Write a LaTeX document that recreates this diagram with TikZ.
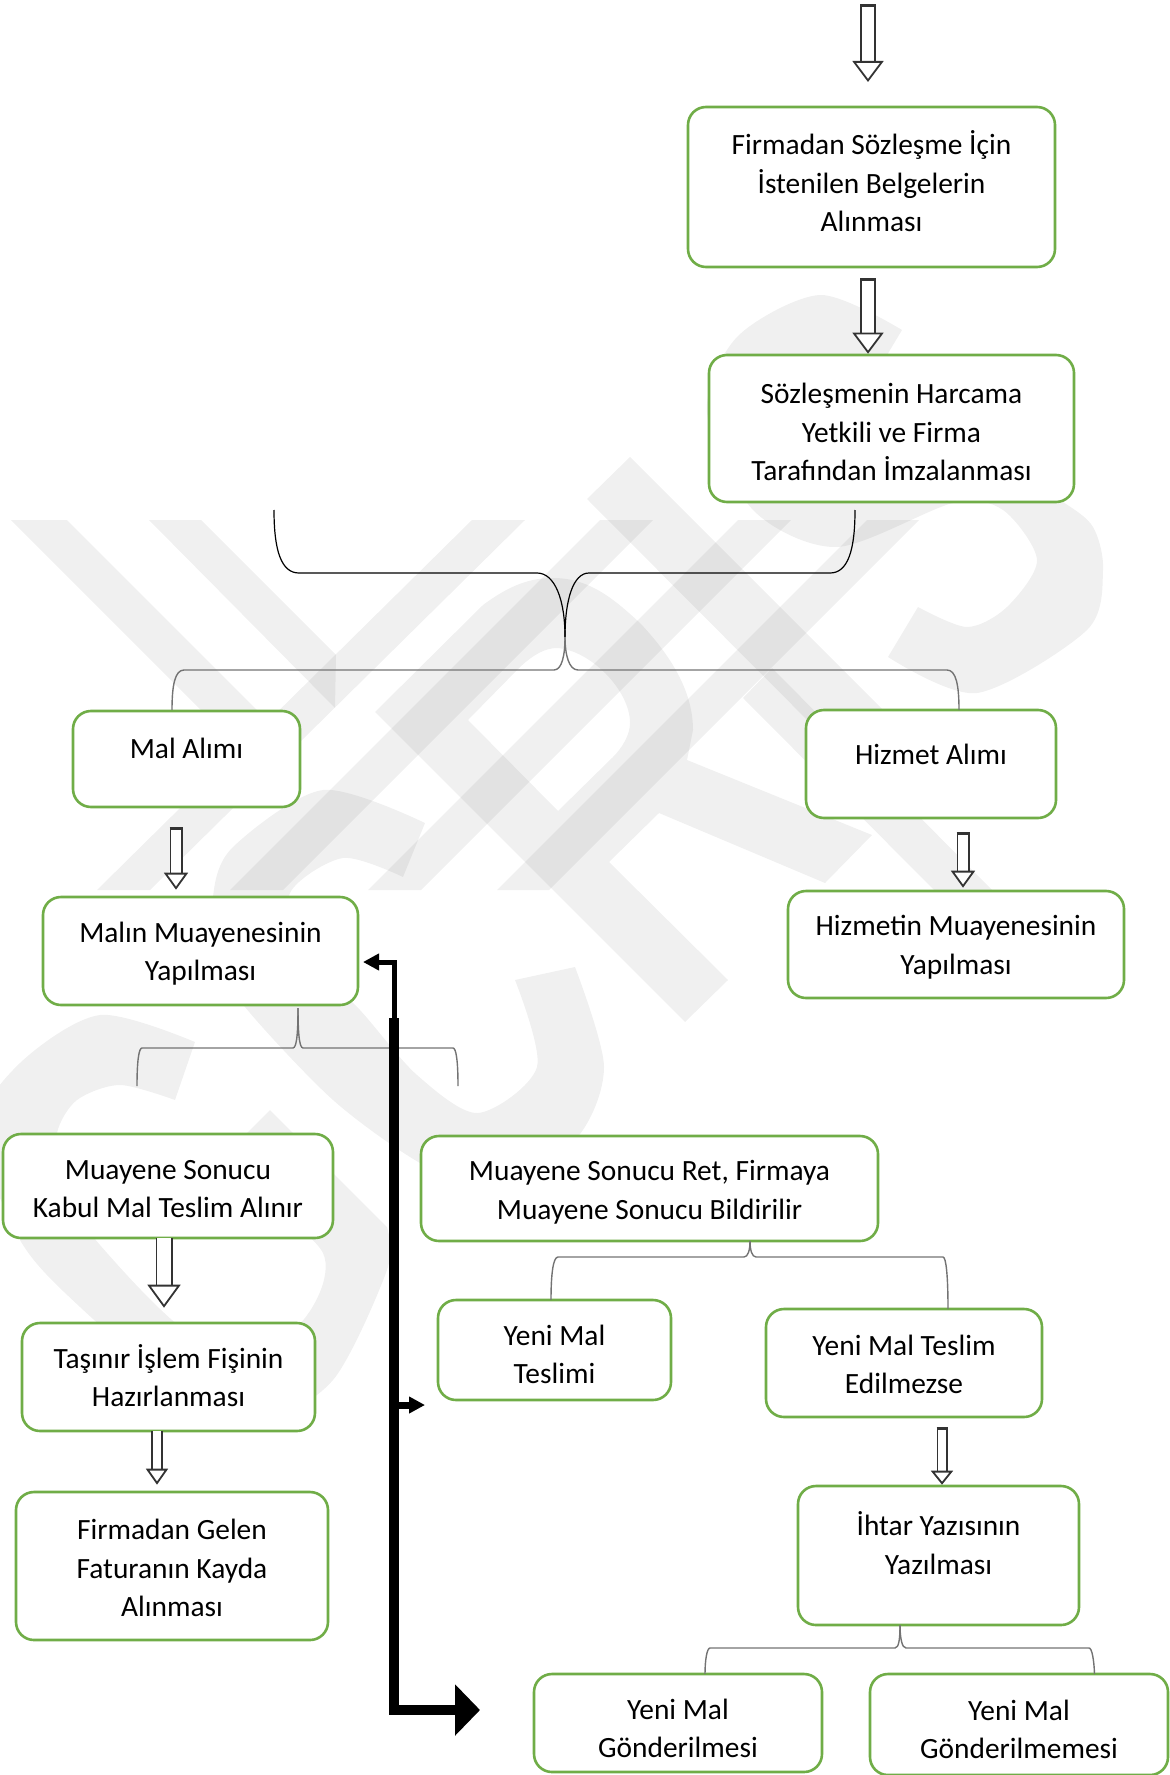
\documentclass[tikz,border=0pt]{standalone}
\usepackage{fontspec}
\setmainfont{Carlito}
\usetikzlibrary{arrows.meta}
\definecolor{boxgreen}{HTML}{70AD47}
\newcommand{\lead}[1]{\rule{0pt}{\dimexpr16.4pt+#1pt\relax}}
\newcommand{\trail}[1]{\rule[-\dimexpr6pt+#1pt\relax]{0pt}{0pt}}
\begin{document}
\begin{tikzpicture}[
        x=0.5pt, y=-0.5pt,
        mark band/.style={fill=black, fill opacity=0.06},
        stepbox/.style 2 args={draw=boxgreen, fill=white, line width=1.3pt, rounded corners=9pt,
            minimum width=#1*0.5pt, minimum height=#2*0.5pt, inner sep=0pt, align=center,
            font=\fontsize{14.7}{19.25}\selectfont},
        hollow/.style n args={3}{draw=black!80, line width=0.9pt, double=white, double distance=#1*0.5pt-1.8pt,
            -{Triangle[fill=white, line width=0.9pt, width=#2*0.5pt, length=#3*0.5pt]}},
        capped/.style n args={3}{hollow={#1}{#2}{#3},
            {Bar[line width=1.3pt, width=#1*0.5pt]}-{Triangle[fill=white, line width=0.9pt, width=#2*0.5pt, length=#3*0.5pt]}},
        brace/.style={draw=black, line width=0.6pt},
        greybrace/.style={draw=black!55, line width=0.7pt},
        heavy/.style n args={3}{draw=black, line width=#1pt, -{Triangle[width=#2pt, length=#3pt]}}
    ]
        \useasboundingbox (0,0) rectangle (1170,1775);
        \begin{scope}
        \clip (0,0) rectangle (1170,1775);
        \fill[mark band] (11,520) -- (67,520) -- (271,724) -- (243,752) -- cycle;
        \fill[mark band] (149,520) -- (201,520) -- (336,655) -- (335,708) -- cycle;
        \fill[mark band] (472,520) -- (525,520) -- (150,890) -- (97,890) -- cycle;
        \fill[mark band] (600,520) -- (653,520) -- (283,890) -- (230,890) -- cycle;
        \fill[mark band] (738,520) -- (791,520) -- (421,890) -- (368,890) -- cycle;
        \fill[mark band] (867,520) -- (919,520) -- (549,890) -- (497,890) -- cycle;
        \fill[mark band] (630,457) -- (587,499) -- (857,770) -- (900,727) -- cycle;
        \fill[mark band] (743,698) -- (772,668) -- (992,890) -- (934,890) -- cycle;
        \fill[mark band, even odd rule]
            (375,712) -- (483,605) .. controls (510,585) and (530,578) .. (553,578)
            .. controls (590,578) and (615,600) .. (640,623)
            .. controls (675,660) and (693,695) .. (693,730) -- (687,760)
            -- (872,835) -- (825,883) -- (659,813) -- (609,862) -- (728,980) -- (685,1022) -- cycle
            (468,720) -- (520,667) .. controls (533,655) and (545,648) .. (557,648)
            .. controls (590,650) and (630,690) .. (630,723)
            .. controls (630,735) and (622,748) .. (613,757) -- (558,811) -- cycle;
        \fill[mark band] plot[smooth] coordinates {(902,330) (820,295) (737,337) (707,413) (753,510) (837,547) (953,503) (1003,510) (1037,560) (1007,607) (967,627) (918,607)}
            -- plot[smooth] coordinates {(888,657) (977,693) (1087,630) (1103,570) (1093,527) (1063,502) (1003,467) (903,493) (820,473) (787,420) (827,367) (887,355)} -- cycle;
        \fill[mark band] plot[smooth] coordinates {(425,823) (323,790) (233,847) (213,897) (220,960) (245,1007) (333,1100) (420,1163) (490,1190) (575,1140) (604,1067) (575,967)}
            -- plot[smooth] coordinates {(515,980) (537,1067) (478,1113) (417,1075) (360,1010) (302,950) (290,893) (343,858) (403,877)} -- cycle;
        \fill[mark band] plot[smooth] coordinates {(195,1042) (100,1015) (20,1063) (-20,1130) (20,1240) (80,1307) (180,1390) (260,1420) (333,1380) (387,1270) (387,1227)}
            -- (270,1110) -- plot[smooth] coordinates {(215,1165) (323,1253) (293,1330) (200,1340) (100,1245) (60,1180) (57,1133) (77,1100) (120,1085) (175,1100)} -- cycle;
        \end{scope}

        \node[stepbox={367}{160}] (belge) at (871.5,187) {\lead{0}Firmadan Sözleşme İçin\\İstenilen Belgelerin\\Alınması\trail{4}};
        \node[stepbox={365}{147}] (imza) at (891.5,428.5) {\lead{3.5}Sözleşmenin Harcama\\Yetkili ve Firma\\Tarafından İmzalanması\trail{0}};
        \node[stepbox={227}{96}] (mal) at (186.5,759) {\lead{0}Mal Alımı\trail{11}};
        \node[stepbox={250}{108}] (hizmet) at (931,764) {\lead{0}Hizmet Alımı\trail{10}};
        \node[stepbox={315}{108}] (malin) at (200.5,951) {\lead{0}Malın Muayenesinin\\Yapılması\trail{0}};
        \node[stepbox={336}{107}] (hizmetin) at (956,944.5) {\lead{0}Hizmetin Muayenesinin\\Yapılması\trail{0}};
        \node[stepbox={330}{104}] (kabul) at (168,1186) {\lead{2}Muayene Sonucu\\Kabul Mal Teslim Alınır\trail{0}};
        \node[stepbox={293}{108}] (fis) at (168.5,1377) {\lead{0}Taşınır İşlem Fişinin\\Hazırlanması\trail{0}};
        \node[stepbox={312}{148}] (fatura) at (172,1566) {\lead{2}Firmadan Gelen\\Faturanın Kayda\\Alınması\trail{0}};
        \node[stepbox={457}{105}] (ret) at (649.5,1188.5) {\lead{1}Muayene Sonucu Ret, Firmaya\\Muayene Sonucu Bildirilir\trail{0}};
        \node[stepbox={233}{100}] (teslim) at (554.5,1350) {\lead{4}Yeni Mal\\Teslimi\trail{0}};
        \node[stepbox={276}{108}] (edilmez) at (904,1363) {\lead{1}Yeni Mal Teslim\\Edilmezse\trail{0}};
        \node[stepbox={281}{139}] (ihtar) at (938.5,1555.5) {\lead{0}İhtar Yazısının\\Yazılması\trail{11}};
        \node[stepbox={288}{98}] (gonder) at (678,1723) {\lead{5}Yeni Mal\\Gönderilmesi\trail{0}};
        \node[stepbox={298}{101}] (gondermez) at (1019,1724.5) {\lead{4.5}Yeni Mal\\Gönderilmemesi\trail{0}};

        \coordinate (topstart) at (868,4);
        \coordinate (topend) at (868,82);
        \coordinate (a1) at (868,278);
        \coordinate (a2) at (176,827);
        \coordinate (a3) at (963,832);
        \coordinate (a4) at (164,1238);
        \coordinate (a5) at (157,1431);
        \coordinate (a6) at (942,1427);
        \draw[capped={16}{31}{21}] (topstart) -- (topend);
        \draw[capped={16}{31}{21}] (a1) -- (a1 |- imza.north);
        \draw[capped={13}{24}{17}] (a2) -- ([yshift=3pt]a2 |- malin.north);
        \draw[capped={13}{24}{17}] (a3) -- ([yshift=1pt]a3 |- hizmetin.north);
        \draw[hollow={17}{33}{23}] (a4) -- ([yshift=7pt]a4 |- fis.north);
        \draw[hollow={12}{22}{16}] (a5) -- ([yshift=3pt]a5 |- fatura.north);
        \draw[capped={11}{22}{14}] (a6) -- (a6 |- ihtar.north);

        \coordinate (bl) at (274,510);
        \coordinate (br) at (855,510);
        \coordinate (bmid) at (565,637);
        \coordinate (ml) at (172,710);
        \coordinate (mr) at (959,710);
        \draw[brace] (bl) .. controls (274,550) and (281,573) .. (299,573) -- (537,573) .. controls (555,573) and (565,600) .. (bmid);
        \draw[brace] (br) .. controls (855,550) and (848,573) .. (830,573) -- (589,573) .. controls (573,573) and (565,600) .. (bmid);
        \draw[greybrace] (bmid) .. controls (565,655) and (562,670) .. (554,670) -- (184,670) .. controls (175,670) and (172,685) .. (ml);
        \draw[greybrace] (bmid) .. controls (565,655) and (569,670) .. (578,670) -- (947,670) .. controls (956,670) and (959,685) .. (mr);

        \coordinate (cmid) at (298,1008);
        \coordinate (cl) at (137,1086);
        \coordinate (cr) at (458,1086);
        \draw[greybrace] (cmid) .. controls (298,1030) and (297,1048) .. (293,1048) -- (142,1048) .. controls (139,1048) and (137,1060) .. (cl);
        \draw[greybrace] (cmid) .. controls (298,1030) and (299,1048) .. (303,1048) -- (453,1048) .. controls (456,1048) and (458,1060) .. (cr);

        \coordinate (dl) at (551,1300);
        \coordinate (dr) at (948,1309);
        \draw[greybrace] (750,1241) .. controls (750,1250) and (748,1257) .. (744,1257) -- (558,1257) .. controls (553,1257) and (551,1275) .. (dl);
        \draw[greybrace] (750,1241) .. controls (750,1250) and (752,1257) .. (756,1257) -- (943,1257) .. controls (946,1257) and (948,1275) .. (dr);

        \coordinate (el) at (705,1674);
        \coordinate (er) at (1094.5,1674);
        \draw[greybrace] (900,1625) .. controls (900,1638) and (899,1648) .. (895,1648) -- (710,1648) .. controls (707,1648) and (705,1660) .. (el);
        \draw[greybrace] (900,1625) .. controls (900,1638) and (902,1648) .. (906,1648) -- (1089,1648) .. controls (1092,1648) and (1094,1660) .. (er);

        \coordinate (trunktop) at (394,1018);
        \coordinate (trunkbend) at (394,1710);
        \coordinate (trunkend) at (480,1710);
        \coordinate (thinbend) at (394,962);
        \coordinate (thinend) at (363,962);
        \coordinate (midstart) at (394,1405);
        \coordinate (midend) at (425,1405);
        \draw[heavy={2.5}{8}{8}] (trunktop) -- (thinbend) -- (thinend);
        \draw[heavy={3.5}{8}{8}] (midstart) -- (midend);
        \draw[heavy={5}{25}{12.5}] (trunktop) -- (trunkbend) -- (trunkend);
    \end{tikzpicture}
\end{document}
